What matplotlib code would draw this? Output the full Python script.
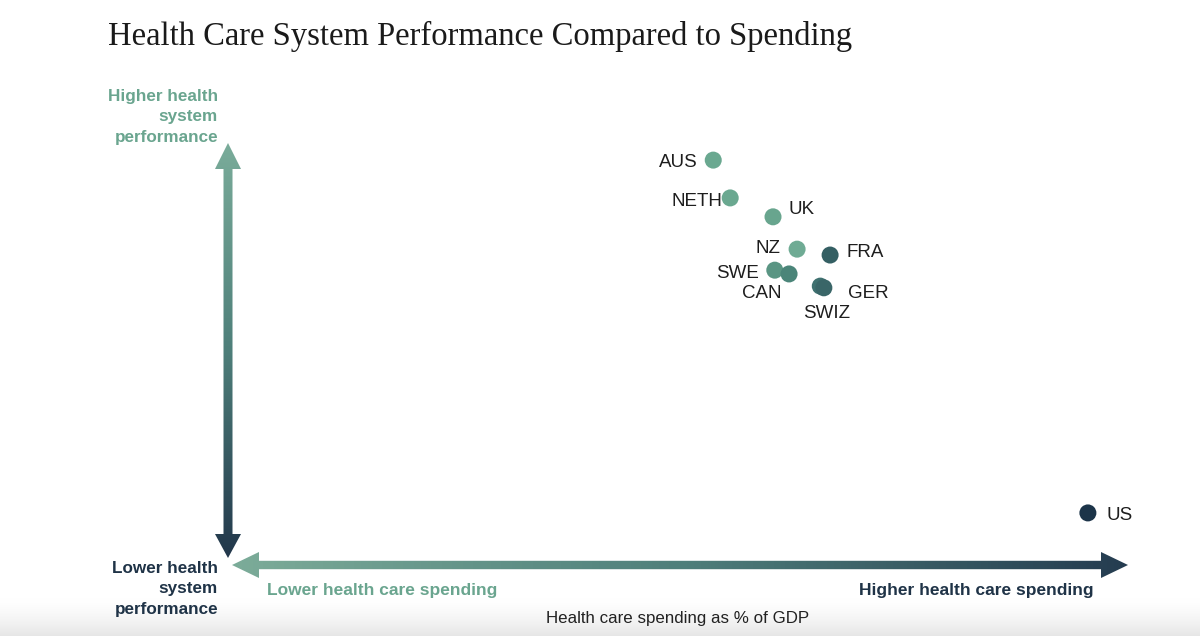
import numpy as np
import matplotlib.pyplot as plt
from matplotlib.colors import LinearSegmentedColormap
from matplotlib.patches import Polygon

# schematic positions (0-100 scale)
countries = ["AUS", "NETH", "UK", "NZ", "FRA", "SWE", "CAN", "SWIZ", "GER", "US"]
spending = [54.4, 56.3, 61.1, 63.8, 67.5, 61.3, 62.9, 66.4, 66.8, 96.4]
performance = [96.4, 87.4, 82.9, 75.2, 73.8, 70.2, 69.3, 66.4, 66.0, 12.4]
colors = ["#6aa890", "#6aa890", "#68a58e", "#6fab94", "#345f63",
          "#5a9583", "#4b8579", "#3f7170", "#3a6668", "#1c3449"]

# label offsets in pixels (dx, dy, ha, va)
label_pos = {
    "AUS": (-16, -2, "right", "center"),
    "NETH": (-8, -4, "right", "center"),
    "UK": (15, 7, "left", "center"),
    "NZ": (-17, 1, "right", "center"),
    "FRA": (16, 3, "left", "center"),
    "SWE": (-16, -3, "right", "center"),
    "CAN": (-27, -20, "center", "center"),
    "SWIZ": (6, -27, "center", "center"),
    "GER": (24, -6, "left", "center"),
    "US": (19, -3, "left", "center"),
}

GREEN = "#6aa58f"
NAVY = "#1f3347"
W, H = 1200, 636

fig = plt.figure(figsize=(12, 6.36), dpi=100)
fig.patch.set_facecolor("white")

# overlay axes in pixel units for decorations
deco = fig.add_axes([0, 0, 1, 1])
deco.set_xlim(0, W)
deco.set_ylim(H, 0)
deco.axis("off")

# faint gray fade at the bottom
fade = np.linspace(0, 1, 100).reshape(-1, 1) ** 1.5
fade_cmap = LinearSegmentedColormap.from_list("fade", ["#ffffff", "#e6e6e6"])
deco.imshow(fade, extent=(0, W, H, 598), cmap=fade_cmap, aspect="auto", zorder=0)

arrow_cmap_v = LinearSegmentedColormap.from_list("v", ["#7aac9a", "#4e7f7a", "#22374b"])
arrow_cmap_h = LinearSegmentedColormap.from_list("h", ["#7cac99", "#4f7f7b", "#253c50"])


def gradient_arrow(poly, extent, cmap, vertical):
    patch = Polygon(poly, closed=True, facecolor="none", edgecolor="none")
    deco.add_patch(patch)
    g = np.linspace(0, 1, 256)
    img = g.reshape(-1, 1) if vertical else g.reshape(1, -1)
    im = deco.imshow(img, extent=extent, cmap=cmap, aspect="auto",
                     origin="upper" if vertical else "lower", zorder=1)
    im.set_clip_path(patch)


# vertical double arrow
x0, hw, sw = 228, 13, 4.5
top, top_b, bot_b, bot = 143, 169, 534, 558
vpoly = [(x0, top), (x0 + hw, top_b), (x0 + sw, top_b), (x0 + sw, bot_b),
         (x0 + hw, bot_b), (x0, bot), (x0 - hw, bot_b), (x0 - sw, bot_b),
         (x0 - sw, top_b), (x0 - hw, top_b)]
gradient_arrow(vpoly, (x0 - hw, x0 + hw, bot, top), arrow_cmap_v, True)

# horizontal double arrow
y0, hh, sh = 565, 13, 4.2
left, left_b, right_b, right = 232, 259, 1101, 1128
hpoly = [(left, y0), (left_b, y0 - hh), (left_b, y0 - sh), (right_b, y0 - sh),
         (right_b, y0 - hh), (right, y0), (right_b, y0 + hh), (right_b, y0 + sh),
         (left_b, y0 + sh), (left_b, y0 + hh)]
gradient_arrow(hpoly, (left, right, y0 + hh, y0 - hh), arrow_cmap_h, False)

# texts
deco.text(108, 36, "Health Care System Performance Compared to Spending",
          fontsize=23.5, family="Liberation Serif", color="#1a1a1a",
          ha="left", va="center")
deco.text(218, 117, "Higher health\nsystem\nperformance", fontsize=12.3,
          family="Liberation Sans", weight="bold", color=GREEN,
          ha="right", va="center", multialignment="right", linespacing=1.42)
deco.text(218, 589, "Lower health\nsystem\nperformance", fontsize=12.3,
          family="Liberation Sans", weight="bold", color=NAVY,
          ha="right", va="center", multialignment="right", linespacing=1.42)
deco.text(267, 590, "Lower health care spending", fontsize=12.5,
          family="Liberation Sans", weight="bold", color=GREEN,
          ha="left", va="center")
deco.text(1094, 590, "Higher health care spending", fontsize=12.5,
          family="Liberation Sans", weight="bold", color=NAVY,
          ha="right", va="center")
deco.text(678, 618, "Health care spending as % of GDP", fontsize=12.2,
          family="Liberation Sans", color="#222222", ha="center", va="center")

# data axes
ax = fig.add_axes([228 / W, 1 - 565 / H, 892 / W, 420 / H])
ax.set_xlim(0, 100)
ax.set_ylim(0, 100)
ax.axis("off")
ax.patch.set_alpha(0)

ax.scatter(spending, performance, s=150, c=colors, edgecolors="none",
           zorder=3, clip_on=False)
for name, x, y in zip(countries, spending, performance):
    dx, dy, ha, va = label_pos[name]
    ax.annotate(name, (x, y), xytext=(dx, dy), textcoords="offset pixels",
                ha=ha, va=va, fontsize=13.5, family="Liberation Sans",
                color="#1e1e1e", annotation_clip=False)

fig.savefig("out.png", dpi=100, facecolor="white")
